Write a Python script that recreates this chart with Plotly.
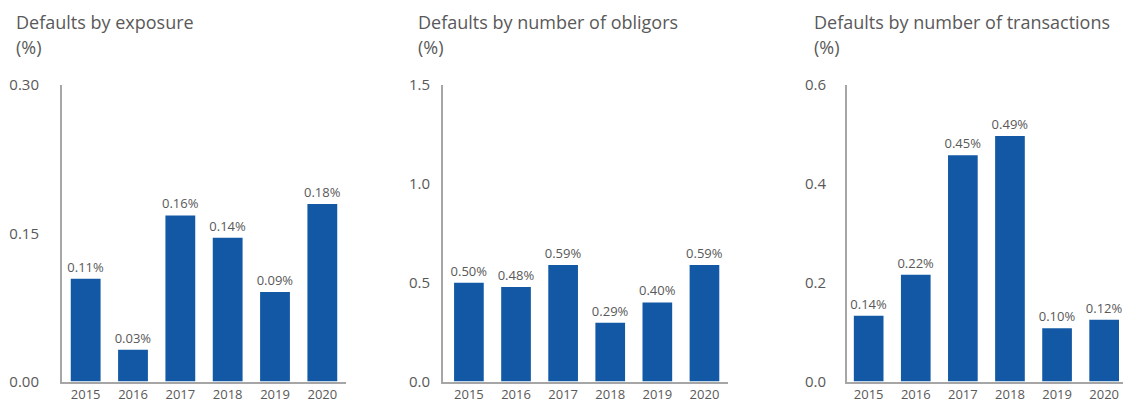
import plotly.graph_objects as go

years = ["2015", "2016", "2017", "2018", "2019", "2020"]

exposure_vals = [0.104, 0.032, 0.168, 0.1455, 0.0905, 0.1795]
exposure_labels = ["0.11%", "0.03%", "0.16%", "0.14%", "0.09%", "0.18%"]

obligors_vals = [0.50, 0.478, 0.59, 0.297, 0.40, 0.59]
obligors_labels = ["0.50%", "0.48%", "0.59%", "0.29%", "0.40%", "0.59%"]

transactions_vals = [0.133, 0.216, 0.458, 0.497, 0.108, 0.125]
transactions_labels = ["0.14%", "0.22%", "0.45%", "0.49%", "0.10%", "0.12%"]

titles = ["Defaults by exposure", "Defaults by number of obligors", "Defaults by number of transactions"]

W, H = 1123, 401
BAR = "#1258a5"
TXT = "#595959"
AX = "#a6a6a6"
FONT = "Open Sans"

fig = go.Figure()

panels = [
    dict(vals=exposure_vals, labels=exposure_labels, x0=62, x1=346, xr=[-0.5, 5.5],
         tickvals=[0, 0.15, 0.30], fmt=".2f", ymax=0.30, stand=18, tx=14),
    dict(vals=obligors_vals, labels=obligors_labels, x0=443, x1=728, xr=[-0.55, 5.5],
         tickvals=[0, 0.5, 1.0, 1.5], fmt=".1f", ymax=1.5, stand=8, tx=416),
    dict(vals=transactions_vals, labels=transactions_labels, x0=847, x1=1123, xr=[-0.46, 5.40],
         tickvals=[0, 0.2, 0.4, 0.6], fmt=".1f", ymax=0.6, stand=16, tx=812),
]

ytop, ybot = 85, 381.5
ydom = [(H - ybot) / H, (H - ytop) / H]

for i, p in enumerate(panels):
    n = "" if i == 0 else str(i + 1)
    fig.add_trace(go.Bar(
        x=years, y=p["vals"], text=p["labels"], textposition="outside",
        constraintext="none", cliponaxis=False, width=0.63,
        marker=dict(color=BAR, line=dict(width=0)),
        textfont=dict(family=FONT, size=13, color=TXT),
        xaxis="x" + n, yaxis="y" + n, showlegend=False, hoverinfo="skip",
    ))
    fig.layout["xaxis" + n] = dict(
        domain=[p["x0"] / W, p["x1"] / W], range=p["xr"], type="category",
        showline=True, linecolor=AX, linewidth=2, showgrid=False, zeroline=False,
        ticks="", tickfont=dict(family=FONT, size=13, color=TXT),
        ticklabelstandoff=0, anchor="y" + n, fixedrange=True, automargin=False,
    )
    fig.layout["yaxis" + n] = dict(
        domain=ydom, range=[0, p["ymax"]], tickvals=p["tickvals"], tickformat=p["fmt"],
        showline=True, linecolor=AX, linewidth=2, showgrid=False, zeroline=False,
        ticks="", tickfont=dict(family=FONT, size=15, color=TXT),
        ticklabelstandoff=p["stand"], anchor="x" + n, fixedrange=True, automargin=False,
    )
    fig.add_annotation(x=p["tx"] / W, y=(H - 22) / H, xref="paper", yref="paper",
                       xanchor="left", yanchor="middle", showarrow=False,
                       text=titles[i], font=dict(family=FONT, size=18, color=TXT))
    fig.add_annotation(x=p["tx"] / W, y=(H - 47) / H, xref="paper", yref="paper",
                       xanchor="left", yanchor="middle", showarrow=False,
                       text="(%)", font=dict(family=FONT, size=18, color=TXT))

fig.update_layout(
    width=W, height=H, margin=dict(l=0, r=0, t=0, b=0, autoexpand=False),
    paper_bgcolor="white", plot_bgcolor="white", bargap=0.37,
)

fig.write_html("out.html", config={"displayModeBar": False})
